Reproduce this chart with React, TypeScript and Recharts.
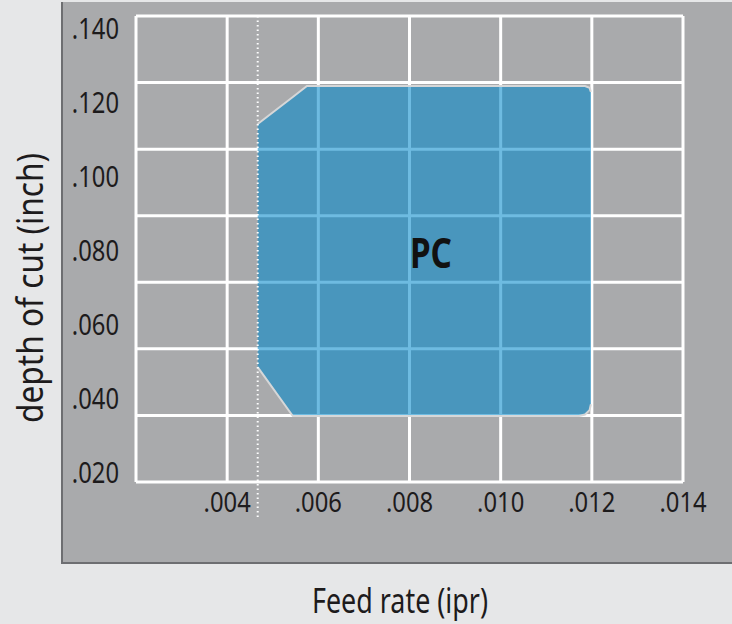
import React from "react";
import {
  ComposedChart,
  Area,
  XAxis,
  YAxis,
  CartesianGrid,
  ReferenceLine,
  ReferenceDot,
  Label,
} from "recharts";

// Рабочая зона PC: подача (ipr) и глубина резания (inch)
const feedRate = [0.00467, 0.00544, 0.00575, 0.01172, 0.01185, 0.01195, 0.01198];
const depthHigh = [0.1143, 0.1216, 0.1246, 0.1246, 0.1246, 0.1241, 0.123];
const depthLow = [0.0486, 0.0354, 0.0354, 0.0354, 0.0358, 0.037, 0.0386];

const xTicks = [0.002, 0.004, 0.006, 0.008, 0.01, 0.012, 0.014];
const yTicks = [0.02, 0.04, 0.06, 0.08, 0.1, 0.12, 0.14];
const xDomain = [0.002, 0.014];
const yDomain = [0.01757, 0.14351];

// пунктир минимальной подачи
const minFeed = 0.00467;
const minFeedSpan = [0.14351, 0.00784];

const zoneName = "PC";
const zoneCenter = { feed: 0.00847, depth: 0.0795 };

const data = feedRate.map((feed, i) => ({
  feed,
  range: [depthLow[i], depthHigh[i]],
}));

const FONT = "'Noto Sans', 'Open Sans', sans-serif";
const INK = "#1d1b1c";

// .140 вместо 0.140
const fmt = (v: number) => v.toFixed(3).replace(/^0/, "");

const YTick = ({ x, y, payload }: any) => (
  <text
    transform={`translate(${x},${y}) scale(0.82,1)`}
    textAnchor="end"
    dy="0.355em"
    fontSize={29}
    fill={INK}
    fontFamily={FONT}
  >
    {fmt(payload.value)}
  </text>
);

const XTick = ({ x, y, payload }: any) => {
  if (payload.value <= xDomain[0]) return null; // левая граница без подписи
  return (
    <text
      transform={`translate(${x},${y}) scale(0.85,1)`}
      textAnchor="middle"
      dy="0.71em"
      fontSize={28}
      fill={INK}
      fontFamily={FONT}
    >
      {fmt(payload.value)}
    </text>
  );
};

export default function App() {
  return (
    <div
      style={{
        position: "absolute",
        left: 0,
        top: 0,
        width: 732,
        height: 624,
        background: "#e6e7e8",
        overflow: "hidden",
      }}
    >
      {/* серая подложка */}
      <div
        style={{
          position: "absolute",
          left: 61,
          top: 2,
          width: 669,
          height: 560,
          background: "#a9aaac",
          borderLeft: "2px solid #6d6e71",
          borderBottom: "2px solid #6d6e71",
        }}
      />
      <div style={{ position: "absolute", left: 0, top: 0 }}>
        <ComposedChart
          width={732}
          height={624}
          data={data}
          margin={{ top: 16, right: 49, bottom: 112, left: 0 }}
        >
          <CartesianGrid
            stroke="#ffffff"
            strokeWidth={3}
            fill="none"
            horizontalCoordinatesGenerator={({ offset }: any) =>
              Array.from({ length: 8 }, (_, i) => offset.top + (i * offset.height) / 7)
            }
          />
          <XAxis
            dataKey="feed"
            type="number"
            domain={xDomain}
            ticks={xTicks}
            allowDataOverflow
            axisLine={false}
            tickLine={false}
            tickSize={0}
            tickMargin={10}
            height={30}
            interval={0}
            tick={<XTick />}
          >
            <Label
              content={({ viewBox }: any) => (
                <text
                  x={viewBox.x + viewBox.width / 2 - 9.5}
                  y={613}
                  textAnchor="middle"
                  fontSize={35}
                  fill={INK}
                  fontFamily={FONT}
                  textLength={176}
                  lengthAdjust="spacingAndGlyphs"
                >
                  Feed rate (ipr)
                </text>
              )}
            />
          </XAxis>
          <YAxis
            type="number"
            domain={yDomain}
            ticks={yTicks}
            allowDataOverflow
            width={136}
            axisLine={false}
            tickLine={false}
            tickSize={0}
            tickMargin={17}
            interval={0}
            tick={<YTick />}
          >
            <Label
              content={({ viewBox }: any) => {
                const cx = 43;
                const cy = viewBox.y + viewBox.height / 2 + 39;
                return (
                  <text
                    x={cx}
                    y={cy}
                    transform={`rotate(-90, ${cx}, ${cy})`}
                    textAnchor="middle"
                    fontSize={37}
                    fill={INK}
                    fontFamily={FONT}
                    textLength={270}
                    lengthAdjust="spacingAndGlyphs"
                  >
                    depth of cut (inch)
                  </text>
                );
              }}
            />
          </YAxis>
          <Area
            dataKey="range"
            type="linear"
            fill="rgb(0,135,203)"
            fillOpacity={0.57}
            stroke="#d6d7d8"
            strokeWidth={2}
            dot={false}
            activeDot={false}
            isAnimationActive={false}
          />
          <ReferenceLine
            segment={[
              { x: minFeed, y: minFeedSpan[0] },
              { x: minFeed, y: minFeedSpan[1] },
            ]}
            ifOverflow="visible"
            stroke="#ffffff"
            strokeWidth={2}
            strokeDasharray="1.5 3"
          />
          <ReferenceDot
            x={zoneCenter.feed}
            y={zoneCenter.depth}
            r={1}
            fill="none"
            stroke="none"
            label={(props: any) => {
              const vb = props.viewBox;
              return (
                <text
                  x={vb.x + vb.width / 2}
                  y={vb.y + vb.height / 2}
                  dy="0.357em"
                  textAnchor="middle"
                  fontSize={42}
                  fontWeight={700}
                  fill="#111111"
                  fontFamily={FONT}
                  textLength={42}
                  lengthAdjust="spacingAndGlyphs"
                >
                  {zoneName}
                </text>
              );
            }}
          />
        </ComposedChart>
      </div>
    </div>
  );
}
